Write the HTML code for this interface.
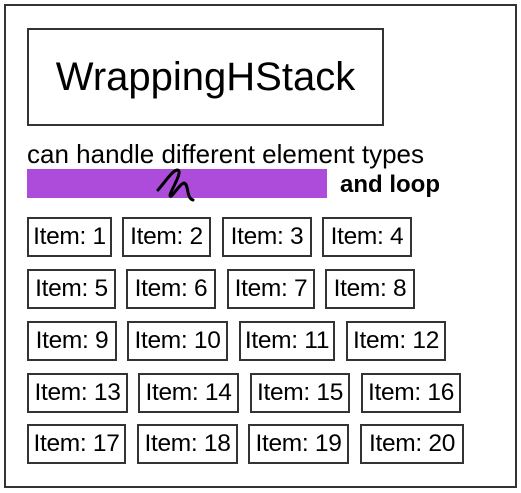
<!DOCTYPE html>
<html><head><style>
body{margin:0;width:521px;height:493px;background:#fff;position:relative;overflow:hidden;font-family:"Liberation Sans",sans-serif;color:#000}
.b{position:absolute;border:2px solid #333;box-sizing:border-box}
.i{position:absolute;border:2px solid #333;box-sizing:border-box;display:flex;align-items:center;justify-content:center;font-size:24.5px;height:40px;white-space:nowrap;letter-spacing:-0.3px}
</style></head><body>
<div class="b" style="left:4px;top:4px;width:513px;height:484px"></div>
<div class="b" style="left:27px;top:28px;width:357px;height:98px;display:flex;align-items:center;justify-content:center;font-size:40px;white-space:nowrap">WrappingHStack</div>
<div style="position:absolute;left:27px;top:139px;font-size:26px;white-space:nowrap;letter-spacing:0px">can handle different element types</div>
<div style="position:absolute;left:27px;top:169px;width:300px;height:29px;background:#ad4bdb"></div>
<svg style="position:absolute;left:0;top:0" width="521" height="493"><path d="M158,190 C165,182 172,171 177,170 C184,170 172,188 170,195 C170,201 179,184 184,183 C189,184 186,198 193,200" fill="none" stroke="#000" stroke-width="3" stroke-linecap="round"/></svg>
<div style="position:absolute;left:340px;top:171px;font-size:24px;font-weight:bold;white-space:nowrap">and loop</div>
<div class="i" style="left:27px;top:217px;width:85px">Item: 1</div>
<div class="i" style="left:122px;top:217px;width:89px">Item: 2</div>
<div class="i" style="left:222px;top:217px;width:90px">Item: 3</div>
<div class="i" style="left:322px;top:217px;width:90px">Item: 4</div>
<div class="i" style="left:27px;top:269px;width:89px">Item: 5</div>
<div class="i" style="left:126px;top:269px;width:90px">Item: 6</div>
<div class="i" style="left:227px;top:269px;width:88px">Item: 7</div>
<div class="i" style="left:325px;top:269px;width:90px">Item: 8</div>
<div class="i" style="left:27px;top:321px;width:90px">Item: 9</div>
<div class="i" style="left:127px;top:321px;width:101px">Item: 10</div>
<div class="i" style="left:239px;top:321px;width:96px">Item: 11</div>
<div class="i" style="left:346px;top:321px;width:100px">Item: 12</div>
<div class="i" style="left:27px;top:373px;width:101px">Item: 13</div>
<div class="i" style="left:138px;top:373px;width:101px">Item: 14</div>
<div class="i" style="left:250px;top:373px;width:100px">Item: 15</div>
<div class="i" style="left:361px;top:373px;width:100px">Item: 16</div>
<div class="i" style="left:27px;top:424px;width:99px">Item: 17</div>
<div class="i" style="left:137px;top:424px;width:101px">Item: 18</div>
<div class="i" style="left:248px;top:424px;width:101px">Item: 19</div>
<div class="i" style="left:360px;top:424px;width:104px">Item: 20</div>
</body></html>
